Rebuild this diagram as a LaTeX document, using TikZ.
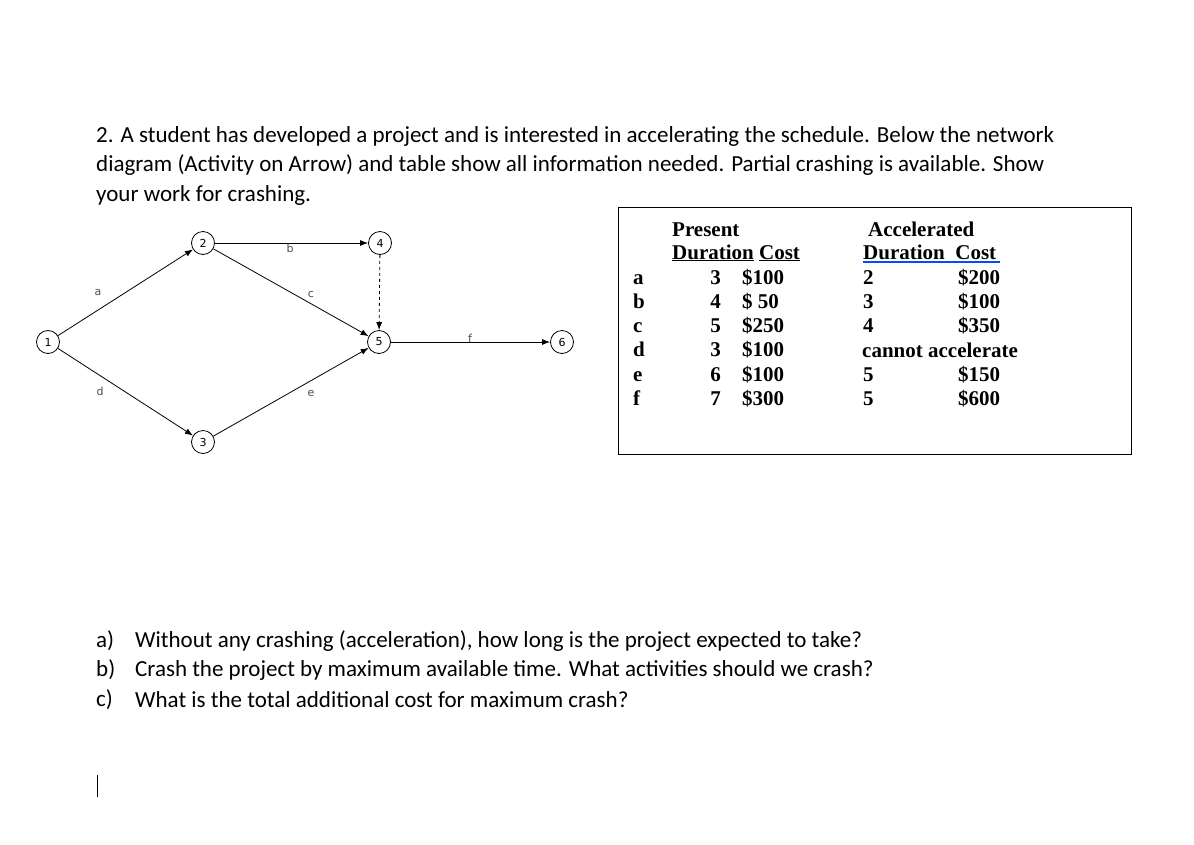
\documentclass[tikz,border=0pt]{standalone}
\usepackage{fontspec}
\setmainfont{Carlito}
\newfontfamily\tms{Liberation Serif}
\newfontfamily\nsans{DejaVu Sans}
\usetikzlibrary{arrows.meta}
\begin{document}
\begin{tikzpicture}[x=1pt,y=-1pt,
  ev/.style={circle,draw,thick,minimum size=23pt,inner sep=0pt,font=\nsans\fontsize{11}{11}\selectfont},
  act/.style={draw,thick,-{Latex[length=8pt,width=6pt]}},
  lab/.style={font=\nsans\fontsize{11}{11}\selectfont,text=black!70},
  q/.style={anchor=west,font=\fontsize{23}{26}\selectfont,inner sep=0pt},
  tb/.style={anchor=base west,font=\tms\bfseries\fontsize{21}{23}\selectfont,inner sep=0pt},
  tr/.style={anchor=base east,font=\tms\bfseries\fontsize{21}{23}\selectfont,inner sep=0pt}]
\useasboundingbox (0,0) rectangle (1194,844);
\fill[white] (0,0) rectangle (1194,844);
\node[q] (t1) at (96,136) {2. A student has developed a project and is interested in accelerating the schedule. Below the network};
\node[q] (t2) at (96,165) {diagram (Activity on Arrow) and table show all information needed. Partial crashing is available. Show};
\node[q] (t3) at (96,195) {your work for crashing.};
% network
\node[ev] (n1) at (48,342) {1};
\node[ev] (n2) at (203,243) {2};
\node[ev] (n3) at (203,442) {3};
\node[ev] (n4) at (380,243) {4};
\node[ev] (n5) at (379,342) {5};
\node[ev] (n6) at (562,342) {6};
\draw[act] (n1) -- (n2);
\draw[act] (n1) -- (n3);
\draw[act] (n2) -- (n4);
\draw[act] (n2) -- (n5);
\draw[act] (n3) -- (n5);
\draw[act,dashed] (n4) -- (n5);
\draw[act] (n5) -- (n6);
\node[lab] (la) at (98,292) {a};
\node[lab] (lb) at (290,248) {b};
\node[lab] (lc) at (311,294) {c};
\node[lab] (ld) at (100,391) {d};
\node[lab] (le) at (311,393) {e};
\node[lab] (lf) at (470,338) {f};
% table
\draw[thick] (618,207) rectangle (1131,454);
\node[tb] (hp) at (672,236) {Present};
\node[tb] (hd) at (672,259) {\underline{Duration}~\underline{Cost}};
\node[tb] (ha) at (868,236) {Accelerated};
\node[tb] (hd2) at (863,259) {Duration\ \ Cost};
\draw[blue!70!cyan,line width=1.5pt] (863,262) -- (1000,262);
\foreach \l/\d/\c/\ad/\ac [count=\i] in {a/3/\$100/2/\$200, b/4/\$~50/3/\$100, c/5/\$250/4/\$350, d/3/\$100/{}/{}, e/6/\$100/5/\$150, f/7/\$300/5/\$600}{
  \pgfmathsetmacro\yy{284+24.3*(\i-1)}
  \node[tb] (r\i l) at (633,\yy) {\l};
  \node[tr] (r\i d) at (721,\yy) {\d};
  \node[tb] (r\i c) at (742,\yy) {\c};
  \node[tb] (r\i a) at (863,\yy) {\ad};
  \node[tb] (r\i k) at (958,\yy) {\ac};
}
\node[tb] (cna) at (862,357) {cannot accelerate};
% questions
\node[q] (qa) at (96,641) {a)}; \node[q] (qa2) at (135,641) {Without any crashing (acceleration), how long is the project expected to take?};
\node[q] (qb) at (96,670) {b)}; \node[q] (qb2) at (135,670) {Crash the project by maximum available time. What activities should we crash?};
\node[q] (qc) at (96,700) {c)}; \node[q] (qc2) at (135,700) {What is the total additional cost for maximum crash?};
\draw[thick] (97,775) -- (97,797);
\end{tikzpicture}
\end{document}
